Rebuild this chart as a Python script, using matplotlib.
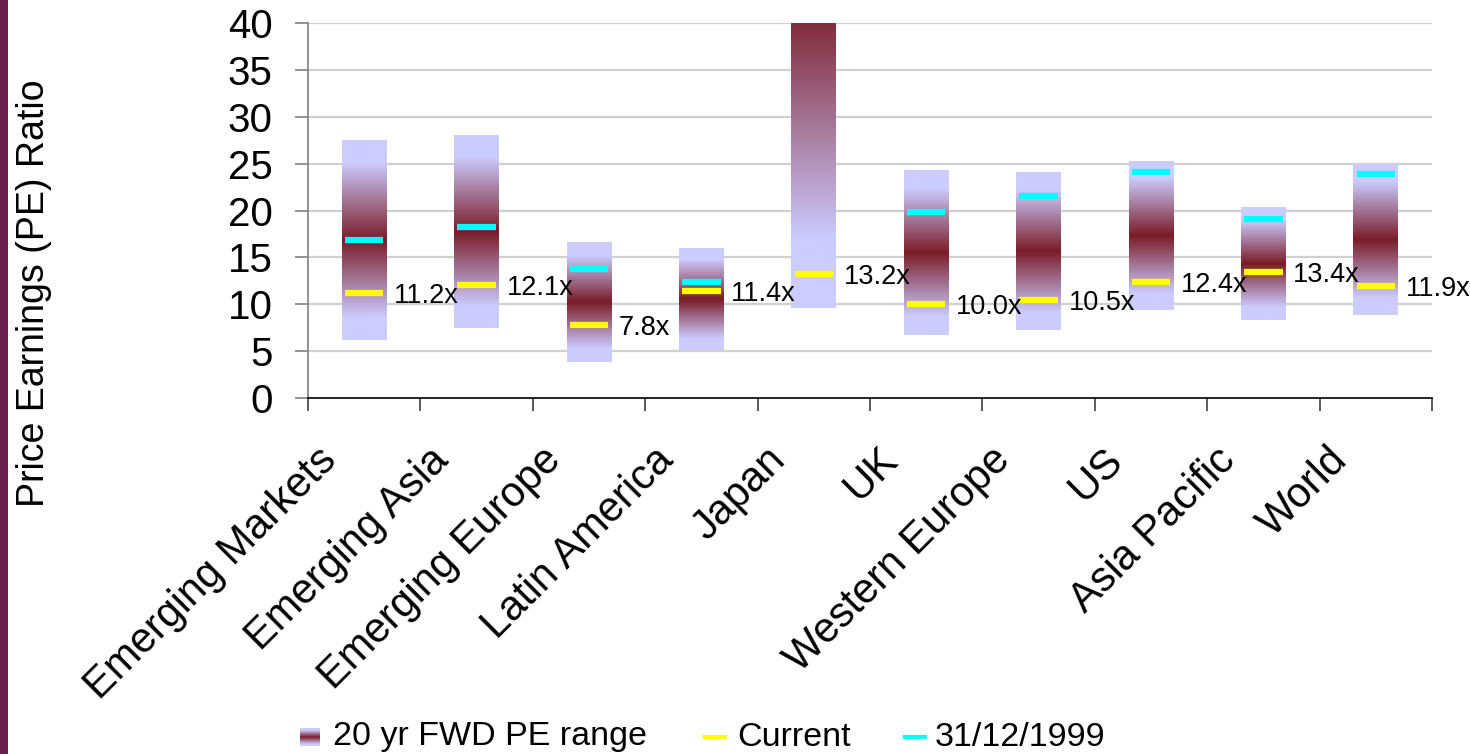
import numpy as np
import matplotlib
matplotlib.use("Agg")
import matplotlib.pyplot as plt
from matplotlib.colors import LinearSegmentedColormap
from matplotlib.patches import Rectangle
from matplotlib.lines import Line2D
from matplotlib.transforms import ScaledTranslation

plt.rcParams['font.family'] = ['Liberation Sans', 'DejaVu Sans']

# ---- data ----
categories = ["Emerging Markets", "Emerging Asia", "Emerging Europe", "Latin America",
              "Japan", "UK", "Western Europe", "US", "Asia Pacific", "World"]
range_low = [6.2, 7.5, 3.8, 5.1, 9.6, 6.7, 7.2, 9.4, 8.3, 8.9]
range_high = [27.5, 28.0, 16.5, 15.9, 75.0, 24.3, 24.0, 25.2, 20.3, 25.0]
current = [11.2, 12.1, 7.8, 11.4, 13.2, 10.0, 10.5, 12.4, 13.4, 11.9]
dec_1999 = [16.9, 18.2, 13.8, 12.4, 58.0, 19.8, 21.6, 24.1, 19.1, 23.9]
current_labels = ["11.2x", "12.1x", "7.8x", "11.4x", "13.2x", "10.0x", "10.5x", "12.4x", "13.4x", "11.9x"]
yticks = [0, 5, 10, 15, 20, 25, 30, 35, 40]

LAV = "#CCCCFF"
MAR = "#7A1C28"
cmap = LinearSegmentedColormap.from_list(
    "pe", [(0.0, LAV), (0.11, LAV), (0.5, MAR), (0.89, LAV), (1.0, LAV)])
grad = np.linspace(0, 1, 256).reshape(-1, 1)

fig = plt.figure(figsize=(14.7, 7.54), dpi=100)
fig.patches.append(Rectangle((0, 0), 8 / 1470, 1, transform=fig.transFigure,
                             facecolor="#6B1F4B", edgecolor="none", zorder=0))

ax = fig.add_axes([308 / 1470, 1 - 398 / 754, (1432 - 308) / 1470, (398 - 23) / 754])

bw = 0.4
mw = 0.34
x = np.arange(len(categories))
for i in range(len(categories)):
    ax.imshow(grad, cmap=cmap, aspect="auto", origin="lower",
              extent=[i - bw / 2, i + bw / 2, range_low[i], range_high[i]],
              zorder=2, interpolation="bilinear")
ax.hlines(current, x - mw / 2, x + mw / 2, colors="#FFFF00", linewidth=4.5, zorder=3)
ax.hlines(dec_1999, x - mw / 2, x + mw / 2, colors="#00FFFF", linewidth=4.5, zorder=3)
for i, (v, lab) in enumerate(zip(current, current_labels)):
    ax.text(i + 0.265, v, lab, ha="left", va="center_baseline", fontsize=19.5, zorder=4,
            clip_on=False)
ax.set_xlim(-0.5, len(categories) - 0.5)
ax.set_ylim(0, 40)

# grid
ax.set_yticks(yticks)
ax.set_yticklabels([str(t) for t in yticks], fontsize=29)
for t in yticks[1:]:
    ax.axhline(t, color="#D0D0D0", linewidth=1.6, zorder=1)

for s in ["top", "right"]:
    ax.spines[s].set_visible(False)
ax.spines["left"].set_color("#808080")
ax.spines["left"].set_linewidth(1.2)
ax.spines["bottom"].set_color("#000000")
ax.spines["bottom"].set_linewidth(1.2)
ax.tick_params(axis="y", direction="out", length=9.5, width=1.2, color="#808080", pad=16)

ax.set_xticks(x)
ax.set_xticks(np.arange(-0.5, len(categories)), minor=True)
ax.tick_params(axis="x", which="major", length=0, pad=30)
ax.tick_params(axis="x", which="minor", direction="out", length=9.5, width=1.2, color="#404040")
ax.set_xticklabels(categories, rotation=45, ha="right", fontsize=30)
off = ScaledTranslation(-20 / 100, 0, fig.dpi_scale_trans)
for lab in ax.get_xticklabels():
    lab.set_transform(lab.get_transform() + off)

fig.text(34 / 1470, 1 - 293 / 754, "Price Earnings (PE) Ratio", rotation=90,
         ha="center", va="center", fontsize=27)

# legend (manual)
ly = 1 - 737 / 754
lax = fig.add_axes([300 / 1470, 1 - 746 / 754, 20 / 1470, 18 / 754])
lax.imshow(grad, cmap=cmap, aspect="auto", origin="lower", interpolation="bilinear")
lax.axis("off")
fig.text(333 / 1470, ly, "20 yr FWD PE range", ha="left", va="center", fontsize=24.5)
fig.add_artist(Line2D([705 / 1470, 725 / 1470], [ly, ly], transform=fig.transFigure,
                      color="#FFFF00", linewidth=3))
fig.text(737 / 1470, ly, "Current", ha="left", va="center", fontsize=24.5)
fig.add_artist(Line2D([905 / 1470, 925 / 1470], [ly, ly], transform=fig.transFigure,
                      color="#00FFFF", linewidth=3))
fig.text(935 / 1470, ly, "31/12/1999", ha="left", va="center", fontsize=24.5)

fig.savefig("out.png", dpi=100)
